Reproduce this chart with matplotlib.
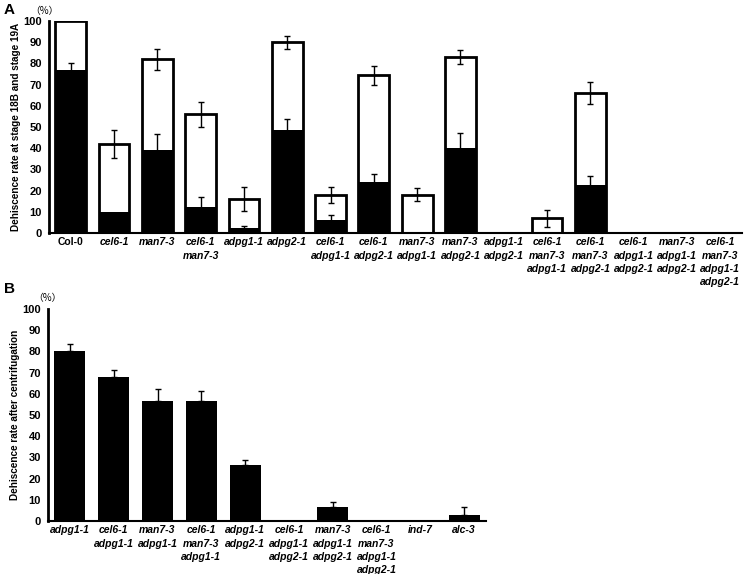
import numpy as np
import matplotlib
matplotlib.use("Agg")
from matplotlib import pyplot as plt

plt.rcParams['font.family'] = ['Liberation Sans', 'DejaVu Sans']

#############################################################
# Data
#############################################################
# Panel A
catsA = ["Col-0", "cel6-1", "man7-3", "cel6-1\nman7-3", "adpg1-1", "adpg2-1",
         "cel6-1\nadpg1-1", "cel6-1\nadpg2-1", "man7-3\nadpg1-1", "man7-3\nadpg2-1",
         "adpg1-1\nadpg2-1", "cel6-1\nman7-3\nadpg1-1", "cel6-1\nman7-3\nadpg2-1",
         "cel6-1\nadpg1-1\nadpg2-1", "man7-3\nadpg1-1\nadpg2-1",
         "cel6-1\nman7-3\nadpg1-1\nadpg2-1"]
totalA = [100, 42, 82, 56, 16, 90, 18, 74.5, 18, 83, 0, 7, 66, 0, 0, 0]
totalErrA = [0, 6.5, 5, 6, 5.5, 3, 3.7, 4.5, 3, 3.5, 0, 4, 5, 0, 0, 0]
blackA = [77, 10, 39, 12.5, 2.5, 48.5, 6, 24, 0.5, 40, 0, 0, 22.5, 0, 0, 0]
blackErrA = [3, 0, 7.5, 4.5, 1, 5.5, 2.5, 4, 0, 7, 0, 0, 4.5, 0, 0, 0]

# Panel B
catsB = ["adpg1-1", "cel6-1\nadpg1-1", "man7-3\nadpg1-1", "cel6-1\nman7-3\nadpg1-1",
         "adpg1-1\nadpg2-1", "cel6-1\nadpg1-1\nadpg2-1", "man7-3\nadpg1-1\nadpg2-1",
         "cel6-1\nman7-3\nadpg1-1\nadpg2-1", "ind-7", "alc-3"]
valB = [80, 68, 56.5, 56.5, 26.5, 0, 6.5, 0, 0, 3]
errB = [3.5, 3, 6, 5, 2.5, 0, 2.5, 0, 0, 3.5]

W, H = 744, 574
BAR_W = 0.71
FS = 7.5


def style_axis(ax, cats, ylabel):
    ax.set_ylim(0, 100)
    ax.set_xlim(-0.5, len(cats) - 0.5)
    ax.set_yticks(np.arange(0, 101, 10))
    ax.set_yticklabels([str(v) for v in range(0, 101, 10)], fontsize=8, fontweight='bold')
    ax.set_xticks(np.arange(len(cats)))
    ax.set_xticklabels(cats, fontsize=FS, fontweight='bold', style='italic',
                       linespacing=1.42, va='top')
    for lbl in ax.get_xticklabels():
        if lbl.get_text() == "Col-0":
            lbl.set_style('normal')
    ax.tick_params(length=0, pad=3)
    ax.tick_params(axis='y', pad=5)
    for s in ["top", "right"]:
        ax.spines[s].set_visible(False)
    ax.spines["left"].set_linewidth(2)
    ax.spines["bottom"].set_linewidth(1.5)
    ax.set_ylabel(ylabel, fontsize=7.2, fontweight='bold', labelpad=2)


fig = plt.figure(figsize=(W / 100, H / 100), dpi=100)

#############################################################
# Panel A
#############################################################
axA = fig.add_axes([49 / W, (H - 233) / H, 693 / W, 212 / H])
xA = np.arange(len(catsA))
axA.bar(xA, totalA, width=BAR_W, color='white', edgecolor='black', linewidth=2, zorder=2)
ea = np.array(totalErrA)
mA = ea > 0
axA.errorbar(xA[mA], np.array(totalA)[mA], yerr=ea[mA], fmt='none', ecolor='black',
             elinewidth=1, capsize=2.5, capthick=1, zorder=3)
axA.bar(xA, blackA, width=BAR_W, color='black', edgecolor='black', linewidth=0, zorder=4)
eb = np.array(blackErrA)
mB = eb > 0
axA.errorbar(xA[mB], np.array(blackA)[mB], yerr=eb[mB], fmt='none', ecolor='black',
             elinewidth=1, capsize=2.5, capthick=1, zorder=5)
style_axis(axA, catsA, "Dehiscence rate at stage 18B and stage 19A")

#############################################################
# Panel B
#############################################################
axB = fig.add_axes([48 / W, (H - 521) / H, 438 / W, 212 / H])
xB = np.arange(len(catsB))
axB.bar(xB, valB, width=BAR_W, color='black', zorder=2)
e = np.array(errB)
m = e > 0
axB.errorbar(xB[m], np.array(valB)[m], yerr=[np.zeros(m.sum()), e[m]], fmt='none',
             ecolor='black', elinewidth=1, capsize=2.5, capthick=1, zorder=3)
style_axis(axB, catsB, "Dehiscence rate after centrifugation")

#############################################################
# Annotations
#############################################################
fig.text(4 / W, 1 - 10 / H, "A", fontsize=11, fontweight='bold', va='center', ha='left')
fig.text(4 / W, 1 - 289 / H, "B", fontsize=11, fontweight='bold', va='center', ha='left')
fig.text(44 / W, 1 - 11 / H, "（%）", fontsize=7, va='center', ha='center',
         family=['Noto Sans CJK SC', 'DejaVu Sans'])
fig.text(47 / W, 1 - 298 / H, "（%）", fontsize=7, va='center', ha='center',
         family=['Noto Sans CJK SC', 'DejaVu Sans'])

fig.savefig("out.png", dpi=100)
